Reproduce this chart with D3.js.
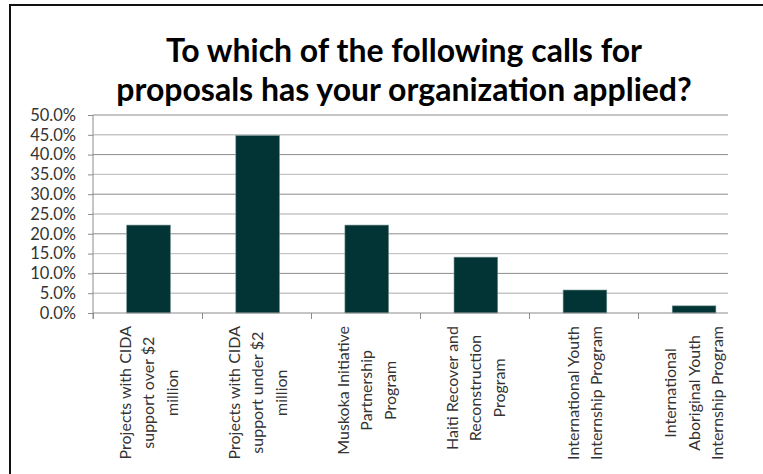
<!DOCTYPE html>
<html>
<head>
<meta charset="utf-8">
<script src="https://cdn.jsdelivr.net/npm/d3@7"></script>
<style>
  html, body { margin: 0; padding: 0; background: #fff; }
  svg { display: block; }
</style>
</head>
<body>
<svg id="chart" width="763" height="474"></svg>
<script>
// Survey question and answer options
const titleLines = ["To which of the following calls for", "proposals has your organization applied?"];

const categories = [
  "Projects with CIDA support over $2 million",
  "Projects with CIDA support under $2 million",
  "Muskoka Initiative Partnership Program",
  "Haiti Recover and Reconstruction Program",
  "International Youth Internship Program",
  "International Aboriginal Youth Internship Program"
];

// How each category label wraps under the axis
const categoryLines = [
  ["Projects with CIDA", "support over $2", "million"],
  ["Projects with CIDA", "support under $2", "million"],
  ["Muskoka Initiative", "Partnership", "Program"],
  ["Haiti Recover and", "Reconstruction", "Program"],
  ["International Youth", "Internship Program"],
  ["International", "Aboriginal Youth", "Internship Program"]
];

// Share of respondents (%)
const shares = [22.2, 44.8, 22.2, 14.1, 5.8, 1.8];

const yTicks = [0, 5, 10, 15, 20, 25, 30, 35, 40, 45, 50];

const svg = d3.select("#chart");
const font = "Lato, 'Open Sans', sans-serif";

// Outer frame (top and left edges visible)
svg.append("path")
  .attr("d", "M10,600 L10,5 L800,5")
  .attr("fill", "none")
  .attr("stroke", "#111")
  .attr("stroke-width", 2);

// Title
const title = svg.append("text")
  .attr("text-anchor", "middle")
  .attr("font-family", font)
  .attr("font-weight", 700)
  .attr("font-size", 32)
  .attr("fill", "#000");
titleLines.forEach((t, i) => {
  title.append("tspan").attr("x", 404).attr("y", 62 + i * 39).text(t);
});

const plotLeft = 93, plotRight = 728, plotTop = 115, plotBottom = 313;

const x = d3.scaleBand()
  .domain(categories)
  .range([plotLeft + 1, plotLeft + 1 + 6 * 109.1])
  .paddingInner(0.6)
  .paddingOuter(0.3);

const y = d3.scaleLinear().domain([0, 50]).range([plotBottom, plotTop]);

// Horizontal gridlines
svg.append("g")
  .selectAll("line")
  .data(yTicks.filter(d => d > 0))
  .join("line")
  .attr("x1", plotLeft)
  .attr("x2", plotRight)
  .attr("y1", d => y(d))
  .attr("y2", d => y(d))
  .attr("stroke", d => (d / 5) % 2 === 0 ? "#8c8c8c" : "#c6c6c6")
  .attr("stroke-width", d => (d / 5) % 2 === 0 ? 1 : 1.4);

// Y axis
const yAxis = svg.append("g")
  .attr("transform", `translate(${plotLeft},0)`)
  .call(d3.axisLeft(y).tickValues(yTicks).tickSize(5).tickPadding(12)
    .tickFormat(d => d3.format(".1f")(d) + "%"));
yAxis.select(".domain").attr("stroke", "#8c8c8c").attr("d", `M0,${plotTop}V${plotBottom + 6}`);
yAxis.selectAll(".tick line").attr("stroke", "#8c8c8c");
yAxis.selectAll(".tick text")
  .attr("font-family", font)
  .attr("font-size", 16.5)
  .attr("fill", "#333");

// Bars
svg.append("g")
  .selectAll("rect")
  .data(categories)
  .join("rect")
  .attr("x", d => x(d))
  .attr("width", x.bandwidth())
  .attr("y", (d, i) => y(shares[i]))
  .attr("height", (d, i) => y(0) - y(shares[i]))
  .attr("fill", "#023436")
  .attr("stroke", "#6f8d8e")
  .attr("stroke-width", 0.6);

// X axis line and category dividers
const step = x.step();
const boundaries = d3.range(categories.length).map(i => x(categories[i]) - step * 0.3 - 1);
const xAxis = svg.append("g");
xAxis.append("line")
  .attr("x1", plotLeft).attr("x2", plotRight)
  .attr("y1", plotBottom).attr("y2", plotBottom)
  .attr("stroke", "#8c8c8c");
xAxis.selectAll("line.div")
  .data(boundaries)
  .join("line")
  .attr("class", "div")
  .attr("x1", d => Math.round(d) + 0.5).attr("x2", d => Math.round(d) + 0.5)
  .attr("y1", plotBottom).attr("y2", plotBottom + 6)
  .attr("stroke", "#8c8c8c");

// Rotated, wrapped category labels
const lineH = 23.5;
const labelTop = 326;
categories.forEach((c, i) => {
  const cx = x(c) + x.bandwidth() / 2;
  const g = svg.append("g").attr("transform", `translate(${cx},${labelTop}) rotate(-90)`);
  const lines = categoryLines[i];
  const texts = lines.map((t, j) =>
    g.append("text")
      .attr("text-anchor", "middle")
      .attr("font-family", font)
      .attr("font-size", 16)
      .attr("fill", "#333")
      .attr("y", (j - (lines.length - 1) / 2) * lineH)
      .attr("dy", "0.35em")
      .text(t));
  const maxW = d3.max(texts, t => t.node().getComputedTextLength());
  texts.forEach(t => t.attr("x", -maxW / 2));
});
</script>
</body>
</html>
